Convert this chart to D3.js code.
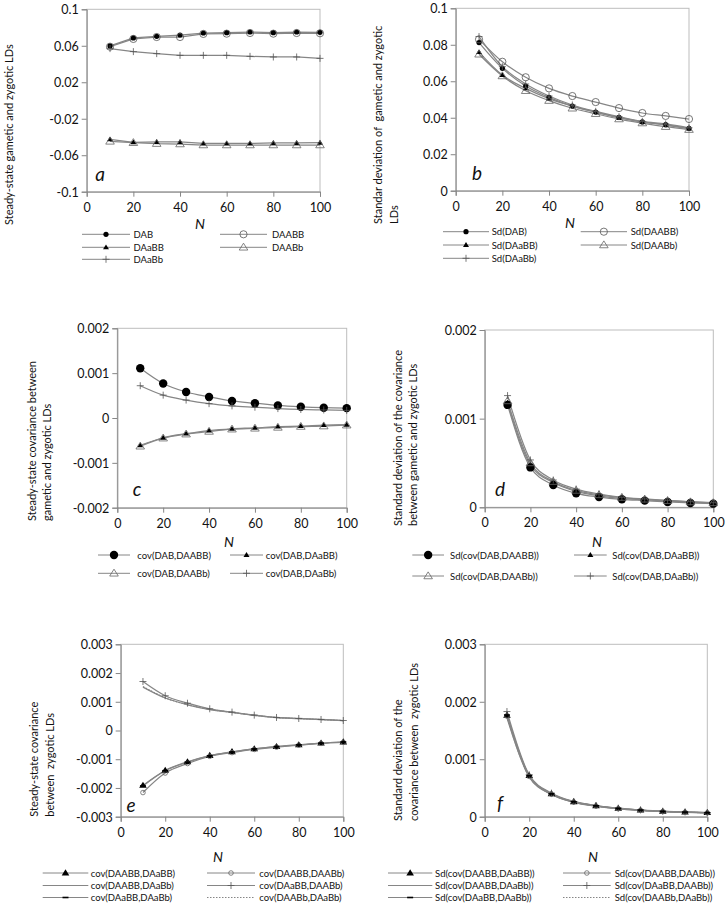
<!DOCTYPE html>
<html>
<head>
<meta charset="utf-8">
<script src="https://cdn.jsdelivr.net/npm/d3@7"></script>
<style>
  html, body { margin: 0; padding: 0; background: #fff; }
  svg { display: block; font-family: Lato, "Open Sans", sans-serif; }
  text.title { white-space: pre; }
</style>
</head>
<body>
<svg id="chart" width="728" height="909"></svg>
<script>
// ---------------- DATA ----------------
const N = [10, 20, 30, 40, 50, 60, 70, 80, 90, 100];
const xTicks = [0, 20, 40, 60, 80, 100];

// Panel a
const aTicks = [-0.1, -0.06, -0.02, 0.02, 0.06, 0.1];
const aDAB   = [0.0598, 0.0686, 0.0704, 0.0718, 0.0740, 0.0744, 0.0751, 0.0744, 0.0751, 0.0748];
const aDAABB = [0.0590, 0.0675, 0.0696, 0.0696, 0.0730, 0.0733, 0.0740, 0.0733, 0.0740, 0.0737];
const aDAaBB = [-0.0426, -0.0459, -0.0455, -0.0455, -0.0470, -0.0470, -0.0470, -0.0466, -0.0466, -0.0463];
const aDAABb = [-0.0448, -0.0463, -0.0473, -0.0477, -0.0488, -0.0488, -0.0488, -0.0488, -0.0488, -0.0488];
const aDAaBb = [0.0569, 0.0536, 0.0514, 0.0495, 0.0495, 0.0495, 0.0484, 0.0477, 0.0477, 0.0462];

// Panel b
const bTicks = [0, 0.02, 0.04, 0.06, 0.08, 0.1];
const bSdDAB   = [0.0812, 0.0671, 0.0574, 0.0512, 0.0464, 0.0431, 0.0402, 0.0377, 0.0362, 0.0342];
const bSdDAABB = [0.0830, 0.0707, 0.0622, 0.0561, 0.0519, 0.0486, 0.0453, 0.0426, 0.0410, 0.0393];
const bSdDAaBB = [0.0760, 0.0634, 0.0561, 0.0505, 0.0464, 0.0431, 0.0399, 0.0377, 0.0360, 0.0340];
const bSdDAABb = [0.0748, 0.0629, 0.0548, 0.0494, 0.0452, 0.0422, 0.0393, 0.0371, 0.0351, 0.0335];
const bSdDAaBb = [0.0845, 0.0680, 0.0585, 0.0519, 0.0470, 0.0435, 0.0406, 0.0380, 0.0366, 0.0345];

// Panel c
const cTicks = [-0.002, -0.001, 0, 0.001, 0.002];
const cCovDAABB = [0.00111, 0.00077, 0.00058, 0.00047, 0.00038, 0.00033, 0.00028, 0.00025, 0.00023, 0.00022];
const cCovDAaBB = [-0.00061, -0.00044, -0.00035, -0.00028, -0.00024, -0.00022, -0.00019, -0.00018, -0.00016, -0.00015];
const cCovDAABb = [-0.00063, -0.00045, -0.00036, -0.00030, -0.00025, -0.00023, -0.00021, -0.00019, -0.00018, -0.00016];
const cCovDAaBb = [0.00072, 0.00051, 0.00040, 0.00032, 0.00027, 0.00024, 0.00021, 0.00019, 0.00018, 0.00017];

// Panel d
const dTicks = [0, 0.001, 0.002];
const dSdDAABB = [0.001155, 0.00045, 0.000252, 0.000158, 0.000116, 0.00009, 0.000075, 0.00006, 0.000049, 0.000041];
const dSdDAaBB = [0.00118, 0.00048, 0.00028, 0.00018, 0.00013, 0.0001, 0.000085, 0.00007, 0.000056, 0.000046];
const dSdDAABb = [0.0012, 0.0005, 0.00029, 0.00019, 0.00014, 0.00011, 0.00009, 0.000074, 0.00006, 0.00005];
const dSdDAaBb = [0.00126, 0.000534, 0.000308, 0.000206, 0.00015, 0.000113, 0.000094, 0.000079, 0.000063, 0.000052];

// Panel e
const eTicks = [-0.003, -0.002, -0.001, 0, 0.001, 0.002, 0.003];
const eCov1 = [-0.00191, -0.00139, -0.00109, -0.00087, -0.00074, -0.00064, -0.00056, -0.0005, -0.00044, -0.0004];
const eCov2 = [-0.00216, -0.00148, -0.00115, -0.0009, -0.00077, -0.00066, -0.00058, -0.00051, -0.00045, -0.00041];
const eCov3 = [0.00151, 0.00113, 0.000895, 0.00073, 0.000627, 0.00053, 0.00045, 0.000415, 0.00038, 0.000345];
const eCov4 = [0.001705, 0.00121, 0.00095, 0.000755, 0.00064, 0.000535, 0.000453, 0.000418, 0.000383, 0.000348];
const eCov5 = [-0.00193, -0.0014, -0.0011, -0.00088, -0.00075, -0.00064, -0.00056, -0.0005, -0.00044, -0.0004];
const eCov6 = [0.00153, 0.00114, 0.0009, 0.00074, 0.00063, 0.00053, 0.00045, 0.000415, 0.00038, 0.000345];

// Panel f
const fTicks = [0, 0.001, 0.002, 0.003];
const fSd1 = [0.001765, 0.000714, 0.0004, 0.000261, 0.000191, 0.000145, 0.000116, 0.000093, 0.000081, 0.00007];
const fSd2 = [0.00175, 0.0007, 0.00039, 0.000255, 0.000186, 0.00014, 0.000112, 0.00009, 0.000078, 0.000068];
const fSd3 = [0.00172, 0.00069, 0.000385, 0.00025, 0.000183, 0.000138, 0.00011, 0.000089, 0.000077, 0.000067];
const fSd4 = [0.00183, 0.00073, 0.00041, 0.000265, 0.000195, 0.000148, 0.000118, 0.000095, 0.000082, 0.000071];
const fSd5 = [0.00177, 0.000715, 0.000398, 0.00026, 0.00019, 0.000144, 0.000115, 0.000092, 0.00008, 0.000069];
const fSd6 = [0.00174, 0.000705, 0.000392, 0.000257, 0.000188, 0.000142, 0.000113, 0.000091, 0.000079, 0.000068];

// ---------------- PANELS (layout + series references) ----------------
const panels = [
  {
    letter: "a", box: [86.7, 9.3, 320, 191.7], domain: [-0.1, 0.1], ticks: aTicks, curve: d3.curveLinear,
    title: { lines: ["Steady-state gametic and zygotic LDs"], xs: [8.5], y: 225 },
    nPos: [200, 223], letterPos: [100, 173],
    legend: { cols: [[82, 130, 133.5], [220, 267, 272]], rows: [234.3, 247.3, 259.3], font: 9.5 },
    series: [
      { name: "DAB", values: aDAB, marker: "dot" },
      { name: "DAABB", values: aDAABB, marker: "ocircle" },
      { name: "DAaBB", values: aDAaBB, marker: "tri" },
      { name: "DAABb", values: aDAABb, marker: "otri" },
      { name: "DAaBb", values: aDAaBb, marker: "plus" }
    ]
  },
  {
    letter: "b", box: [455.7, 8.3, 689, 190.7], domain: [0, 0.1], ticks: bTicks, curve: d3.curveMonotoneX,
    title: { lines: ["Standar deviation of  gametic and zygotic", "LDs"], xs: [377.3, 393.3], y: 224 },
    nPos: [570, 222], letterPos: [477, 172],
    legend: { cols: [[443, 489, 491.7], [580.7, 627, 630.7]], rows: [231.7, 245, 258.3], font: 9.5 },
    series: [
      { name: "Sd(DAB)", values: bSdDAB, marker: "dot" },
      { name: "Sd(DAABB)", values: bSdDAABB, marker: "ocircle" },
      { name: "Sd(DAaBB)", values: bSdDAaBB, marker: "tri" },
      { name: "Sd(DAABb)", values: bSdDAABb, marker: "otri" },
      { name: "Sd(DAaBb)", values: bSdDAaBb, marker: "plus" }
    ]
  },
  {
    letter: "c", box: [117.3, 328.3, 346.7, 507.7], domain: [-0.002, 0.002], ticks: cTicks, curve: d3.curveMonotoneX,
    title: { lines: ["Steady-state covariance between", "gametic and zygotic LDs"], xs: [31.7, 46.7], y: 521 },
    nPos: [229, 541], letterPos: [137, 488],
    legend: { cols: [[98, 130, 137.3], [230, 263, 265.7]], rows: [555, 573.3], font: 9.5 },
    series: [
      { name: "cov(DAB,DAABB)", values: cCovDAABB, marker: "bigdot" },
      { name: "cov(DAB,DAaBB)", values: cCovDAaBB, marker: "tri" },
      { name: "cov(DAB,DAABb)", values: cCovDAABb, marker: "otri" },
      { name: "cov(DAB,DAaBb)", values: cCovDAaBb, marker: "plus" }
    ]
  },
  {
    letter: "d", box: [484.7, 330, 713.3, 507.3], domain: [0, 0.002], ticks: dTicks, curve: d3.curveMonotoneX,
    title: { lines: ["Standard deviation of the covariance", "between gametic and zygotic LDs"], xs: [397.3, 412.3], y: 526 },
    nPos: [597, 541], letterPos: [500, 488],
    legend: { cols: [[412.3, 444, 450], [574, 606.7, 612.3]], rows: [555, 576], font: 9.5 },
    series: [
      { name: "Sd(cov(DAB,DAABB))", values: dSdDAABB, marker: "bigdot" },
      { name: "Sd(cov(DAB,DAaBB))", values: dSdDAaBB, marker: "tri" },
      { name: "Sd(cov(DAB,DAABb))", values: dSdDAABb, marker: "otri" },
      { name: "Sd(cov(DAB,DAaBb))", values: dSdDAaBb, marker: "plus" }
    ]
  },
  {
    letter: "e", box: [120.7, 644.3, 343.3, 816.7], domain: [-0.003, 0.003], ticks: eTicks, curve: d3.curveMonotoneX,
    title: { lines: ["Steady-state covariance", "between  zygotic LDs"], xs: [33.3, 49.3], y: 816.7 },
    nPos: [218, 856], letterPos: [131, 804],
    legend: { cols: [[42.7, 88.3, 90.7], [207, 255, 259.3]], rows: [873, 885.5, 897.5], font: 9.5 },
    series: [
      { name: "cov(DAABB,DAaBB)", values: eCov1, marker: "bigtri" },
      { name: "cov(DAABB,DAABb)", values: eCov2, marker: "socircle" },
      { name: "cov(DAABB,DAaBb)", values: eCov3, marker: "none" },
      { name: "cov(DAaBB,DAABb)", values: eCov4, marker: "plus" },
      { name: "cov(DAaBB,DAaBb)", values: eCov5, marker: "dash" },
      { name: "cov(DAABb,DAaBb)", values: eCov6, marker: "none", dotted: true }
    ]
  },
  {
    letter: "f", box: [484.7, 644.3, 707.3, 816.7], domain: [0, 0.003], ticks: fTicks, curve: d3.curveMonotoneX,
    title: { lines: ["Standard deviation of the", "covariance between  zygotic LDs"], xs: [397.3, 413.3], y: 821 },
    nPos: [593, 856], letterPos: [500, 802],
    legend: { cols: [[388, 432.3, 435], [563, 610.7, 614.7]], rows: [873, 885.5, 897.5], font: 9.5 },
    series: [
      { name: "Sd(cov(DAABB,DAaBB))", values: fSd1, marker: "bigtri" },
      { name: "Sd(cov(DAABB,DAABb))", values: fSd2, marker: "socircle" },
      { name: "Sd(cov(DAABB,DAaBb))", values: fSd3, marker: "none" },
      { name: "Sd(cov(DAaBB,DAABb))", values: fSd4, marker: "plus" },
      { name: "Sd(cov(DAaBB,DAaBb))", values: fSd5, marker: "dash" },
      { name: "Sd(cov(DAABb,DAaBb))", values: fSd6, marker: "none", dotted: true }
    ]
  }
];

// ---------------- DRAWING ----------------
const svg = d3.select("#chart");
const LINE = "#868686";
const AXIS = "#868686";
const FRAME = "#bdbdbd";
const fmt = v => String(+v.toFixed(6));

function drawMarker(g, type, x, y) {
  if (type === "dot") {
    g.append("circle").attr("cx", x).attr("cy", y).attr("r", 2.6).attr("fill", "#000");
  } else if (type === "bigdot") {
    g.append("circle").attr("cx", x).attr("cy", y).attr("r", 4.2).attr("fill", "#000");
  } else if (type === "ocircle") {
    g.append("circle").attr("cx", x).attr("cy", y).attr("r", 3.6).attr("fill", "none").attr("stroke", "#555").attr("stroke-width", 0.8);
  } else if (type === "socircle") {
    g.append("circle").attr("cx", x).attr("cy", y).attr("r", 2.3).attr("fill", "none").attr("stroke", "#666").attr("stroke-width", 0.8);
  } else if (type === "tri" || type === "bigtri" || type === "otri") {
    const s = type === "tri" ? 3 : (type === "bigtri" ? 3.8 : 4.3);
    const h = s * 1.6;
    const p = `M${x},${y - h * 0.6}L${x + s},${y + h * 0.4}L${x - s},${y + h * 0.4}Z`;
    const el = g.append("path").attr("d", p);
    if (type === "otri") el.attr("fill", "none").attr("stroke", "#666").attr("stroke-width", 0.8);
    else el.attr("fill", "#000");
  } else if (type === "plus") {
    g.append("path").attr("d", `M${x - 3.5},${y}H${x + 3.5}M${x},${y - 3.5}V${y + 3.5}`)
      .attr("stroke", "#555").attr("stroke-width", 0.8).attr("fill", "none");
  } else if (type === "dash") {
    g.append("path").attr("d", `M${x - 3},${y}H${x + 3}`).attr("stroke", "#000").attr("stroke-width", 1.6);
  }
}

panels.forEach(p => {
  const [x0, y0, x1, y1] = p.box;
  const x = d3.scaleLinear().domain([0, 100]).range([x0, x1]);
  const y = d3.scaleLinear().domain(p.domain).range([y1, y0]);
  const g = svg.append("g");

  // plot frame
  g.append("rect").attr("x", x0).attr("y", y0).attr("width", x1 - x0).attr("height", y1 - y0)
    .attr("fill", "none").attr("stroke", FRAME).attr("stroke-width", 1);

  // axes
  const yAxis = d3.axisLeft(y).tickValues(p.ticks).tickSize(5).tickPadding(3).tickFormat(fmt);
  const xAxis = d3.axisBottom(x).tickValues(xTicks).tickSize(5).tickPadding(6).tickFormat(d3.format("d"));
  const ya = g.append("g").attr("transform", `translate(${x0},0)`).call(yAxis);
  const xa = g.append("g").attr("transform", `translate(0,${y1})`).call(xAxis);
  [ya, xa].forEach(a => {
    a.select(".domain").attr("stroke", AXIS);
    a.selectAll(".tick line").attr("stroke", AXIS);
    a.selectAll(".tick text").attr("fill", "#111").style("font-size", "12.5px").style("font-family", "Lato, sans-serif");
  });
  ya.selectAll(".tick text").attr("dy", "0.35em");

  // series lines
  const line = d3.line().x((d, i) => x(N[i])).y(d => y(d)).curve(p.curve);
  p.series.forEach(s => {
    g.append("path").datum(s.values).attr("d", line).attr("fill", "none")
      .attr("stroke", LINE).attr("stroke-width", 1.25)
      .attr("stroke-dasharray", s.dotted ? "1.5,1.5" : null);
  });
  // markers
  p.series.forEach(s => {
    s.values.forEach((v, i) => drawMarker(g, s.marker, x(N[i]), y(v)));
  });

  // axis titles
  p.title.lines.forEach((t, i) => {
    g.append("text").attr("class", "title")
      .attr("transform", `translate(${p.title.xs[i]},${p.title.y}) rotate(-90)`)
      .attr("text-anchor", "start").attr("dominant-baseline", "central")
      .style("font-size", "11px").attr("fill", "#111").text(t);
  });
  g.append("text").attr("x", p.nPos[0]).attr("y", p.nPos[1]).attr("text-anchor", "middle")
    .attr("dominant-baseline", "central").style("font-size", "14px").style("font-style", "italic")
    .attr("fill", "#111").text("N");
  g.append("text").attr("x", p.letterPos[0]).attr("y", p.letterPos[1]).attr("text-anchor", "middle")
    .attr("dominant-baseline", "central").style("font-size", "19px").style("font-style", "italic")
    .attr("fill", "#111").text(p.letter);

  // legend
  const L = p.legend;
  p.series.forEach((s, i) => {
    const col = L.cols[i % 2];
    const ry = L.rows[Math.floor(i / 2)];
    g.append("line").attr("x1", col[0]).attr("x2", col[1]).attr("y1", ry).attr("y2", ry)
      .attr("stroke", LINE).attr("stroke-width", 1)
      .attr("stroke-dasharray", s.dotted ? "1.5,1.5" : null);
    drawMarker(g, s.marker, (col[0] + col[1]) / 2, ry);
    g.append("text").attr("class", "title").attr("x", col[2]).attr("y", ry).attr("dominant-baseline", "central")
      .style("font-size", L.font + "px").attr("fill", "#111").text(s.name);
  });
});
</script>
</body>
</html>
